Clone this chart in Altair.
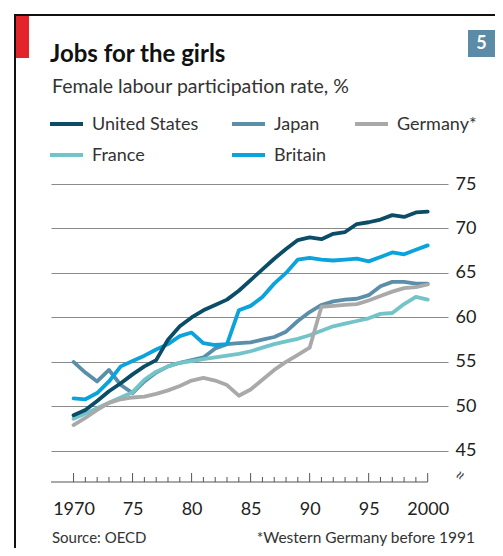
import altair as alt
import pandas as pd

# ---------------- data ----------------
YEARS = list(range(1970, 2001))
SERIES = ["United States", "Japan", "Germany*", "France", "Britain"]
COLORS = ["#0b4c66", "#5b8ea9", "#a9a9a9", "#72c4c8", "#0aa3dc"]

US = [49.0, 49.6, 50.6, 51.7, 52.6, 53.6, 54.5, 55.2, 57.5, 59.0,
      60.0, 60.8, 61.4, 62.0, 63.0, 64.2, 65.4, 66.6, 67.7, 68.7,
      69.0, 68.8, 69.4, 69.6, 70.5, 70.7, 71.0, 71.5, 71.3, 71.8, 71.9]
JAPAN = [55.0, 53.8, 52.8, 54.1, 52.4, 51.5, 52.8, 53.8, 54.5, 54.9,
         55.2, 55.5, 56.5, 57.0, 57.1, 57.2, 57.5, 57.8, 58.4, 59.6,
         60.6, 61.4, 61.8, 62.0, 62.1, 62.5, 63.5, 64.0, 64.0, 63.8, 63.8]
GERMANY = [47.9, 48.7, 49.6, 50.4, 50.8, 51.0, 51.1, 51.4, 51.8, 52.3,
           52.9, 53.2, 52.9, 52.4, 51.2, 51.9, 53.0, 54.1, 55.0, 55.8,
           56.6, 61.2, 61.3, 61.4, 61.5, 61.9, 62.4, 62.9, 63.3, 63.4, 63.7]
FRANCE = [48.6, 49.2, 49.8, 50.4, 51.0, 51.6, 53.0, 53.9, 54.5, 54.9,
          55.1, 55.3, 55.5, 55.7, 55.9, 56.2, 56.6, 57.0, 57.3, 57.6,
          58.0, 58.5, 59.0, 59.3, 59.6, 59.9, 60.4, 60.5, 61.5, 62.3, 62.0]
BRITAIN = [50.9, 50.8, 51.5, 52.8, 54.5, 55.1, 55.7, 56.4, 57.0, 57.9,
           58.3, 57.1, 56.9, 57.0, 60.8, 61.3, 62.3, 63.8, 65.0, 66.5,
           66.7, 66.5, 66.4, 66.5, 66.6, 66.3, 66.8, 67.3, 67.1, 67.6, 68.1]

Y_TICKS = [45, 50, 55, 60, 65, 70, 75]
X_LABELS = [1970, 1975, 1980, 1985, 1990, 1995, 2000]

TITLE = "Jobs for the girls"
SUBTITLE = "Female labour participation rate, %"
SOURCE = "Source: OECD"
NOTE = "*Western Germany before 1991"
BADGE = "5"

# ---------------- layout ----------------
W, H = 397, 298
FONT = "Lato"
DRAW_ORDER = ["Japan", "France", "Germany*", "Britain", "United States"]
LEG_COL_X = [-1, 181, 304]      # swatch start per column (px)
LEG_ROW_Y = [-60, -29]          # swatch centre per row (px)
LEG_POS = {"United States": (0, 0), "Japan": (1, 0), "Germany*": (2, 0),
           "France": (0, 1), "Britain": (1, 1)}

values = {"United States": US, "Japan": JAPAN, "Germany*": GERMANY,
          "France": FRANCE, "Britain": BRITAIN}
rows = []
for s in SERIES:
    for y, v in zip(YEARS, values[s]):
        rows.append({"series": s, "year": y, "value": v})
df = pd.DataFrame(rows)

color = alt.Color("series:N", scale=alt.Scale(domain=SERIES, range=COLORS), legend=None)

x_enc = alt.X("year:Q",
              scale=alt.Scale(domain=[1968.09, 2001.72], nice=False, zero=False),
              axis=alt.Axis(values=X_LABELS,
                            labelExpr="datum.value == 1970 || datum.value == 2000 ? toString(datum.value) : slice(toString(datum.value), 2)",
                            domain=False, ticks=False, grid=False, labelPadding=18,
                            labelFontSize=18, labelColor="#222", labelFont=FONT,
                            title=None))
y_enc = alt.Y("value:Q",
              scale=alt.Scale(domain=[41.5, 75], nice=False, zero=False),
              axis=alt.Axis(orient="right", values=Y_TICKS, grid=True,
                            gridColor="#8a8a8a", gridWidth=1.2, domain=False,
                            ticks=False, labelPadding=7, labelFontSize=18,
                            labelColor="#222", labelFont=FONT, title=None))

layers = []
for s in DRAW_ORDER:
    layers.append(
        alt.Chart(df).transform_filter(alt.datum.series == s)
        .mark_line(strokeWidth=3.8, strokeJoin="round", strokeCap="round")
        .encode(x=x_enc, y=y_enc, color=color)
    )

# x baseline and ticks
years_df = pd.DataFrame({"year": YEARS})
baseline = alt.Chart(pd.DataFrame({"year": [YEARS[-1]]})).mark_rule(
    color="#555", strokeWidth=1.2).encode(x=x_enc, x2=alt.value(0), y=alt.value(H))
minor = alt.Chart(years_df).transform_filter("datum.year % 5 != 0").mark_rule(
    color="#555", strokeWidth=1).encode(x=x_enc, y=alt.value(H), y2=alt.value(H - 5))
major = alt.Chart(years_df).transform_filter("datum.year % 5 == 0").mark_rule(
    color="#555", strokeWidth=1).encode(x=x_enc, y=alt.value(H), y2=alt.value(H - 9))
brk = alt.Chart(pd.DataFrame({"t": ["≈"]})).mark_text(
    font=FONT, fontSize=18, color="#444", angle=300, align="center", baseline="middle"
).encode(text="t:N", x=alt.value(410), y=alt.value(H - 6))

# legend
leg_rows = []
for s in SERIES:
    c, r = LEG_POS[s]
    leg_rows.append({"series": s, "x1": LEG_COL_X[c], "x2": LEG_COL_X[c] + 33,
                     "tx": LEG_COL_X[c] + 42, "ly": LEG_ROW_Y[r]})
leg_df = pd.DataFrame(leg_rows)
leg_lines = alt.Chart(leg_df).mark_rule(strokeWidth=4).encode(
    x=alt.X("x1:Q", scale=None), x2="x2:Q", y=alt.Y("ly:Q", scale=None), color=color)
leg_text = alt.Chart(leg_df).mark_text(
    font=FONT, fontSize=18, color="#333", align="left", baseline="middle", dy=1
).encode(x=alt.X("tx:Q", scale=None), y=alt.Y("ly:Q", scale=None), text="series:N")

def label(txt, x, y, **kw):
    return alt.Chart(pd.DataFrame({"t": [txt]})).mark_text(font=FONT, **kw).encode(
        text="t:N", x=alt.value(x), y=alt.value(y))

title = label(TITLE, -1, -122, fontSize=24, fontWeight="bold", color="#111",
              align="left", baseline="alphabetic")
subtitle = label(SUBTITLE, 1, -91, fontSize=19.5, color="#333",
                 align="left", baseline="alphabetic")
source = label(SOURCE, 1, 359, fontSize=15, color="#333", align="left",
               baseline="alphabetic")
note = label(NOTE, 424, 359, fontSize=15.5, color="#333", align="right",
             baseline="alphabetic")

one = pd.DataFrame({"a": [0]})
frame_left = alt.Chart(one).mark_rule(color="#111", strokeWidth=2).encode(
    x=alt.value(-36), y=alt.value(-169), y2=alt.value(H + 70))
frame_top = alt.Chart(one).mark_rule(color="#111", strokeWidth=2).encode(
    x=alt.value(-37), x2=alt.value(W + 50), y=alt.value(-169))
red_bar = alt.Chart(one).mark_rect(color="#e3242b").encode(
    x=alt.value(-35), x2=alt.value(-22), y=alt.value(-168), y2=alt.value(-126))
badge = alt.Chart(one).mark_rect(color="#5b8ba6").encode(
    x=alt.value(417), x2=alt.value(444), y=alt.value(-154), y2=alt.value(-127))
badge_t = label(BADGE, 430.5, -140, fontSize=18, fontWeight="bold", color="white",
                align="center", baseline="middle")

chart = alt.layer(
    *layers, baseline, minor, major, brk, leg_lines, leg_text,
    title, subtitle, source, note, frame_left, frame_top, red_bar, badge, badge_t
).properties(
    width=W, height=H,
    autosize=alt.AutoSizeParams(type="none"),
    padding={"left": 43, "top": 176, "right": 47, "bottom": 66},
    background="white",
).configure_view(stroke=None)

chart.save("out.html", embed_options={"renderer": "svg", "actions": False})
